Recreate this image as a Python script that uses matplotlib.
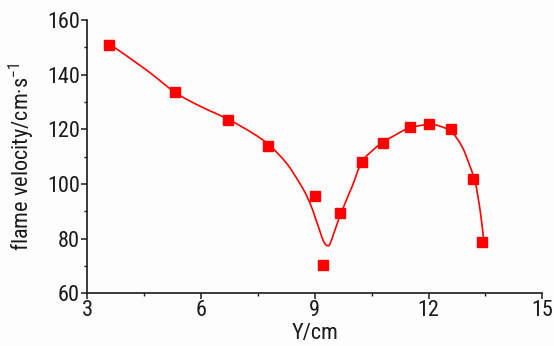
import matplotlib
matplotlib.use("Agg")
import matplotlib.pyplot as plt
from matplotlib.ticker import MultipleLocator
from matplotlib.path import Path
from matplotlib.patches import PathPatch

# measured data points
y_pos = [3.58, 5.32, 6.71, 7.76, 9.00, 9.21, 9.68, 10.24, 10.79, 11.50, 12.00, 12.58, 13.18, 13.42]
velocity = [151.0, 133.6, 123.4, 113.8, 95.5, 70.3, 89.3, 108.0, 115.0, 120.8, 121.9, 120.0, 102.0, 78.7]

# fitted smooth curve (knots)
fit_x = [3.61, 4.57, 5.34, 5.98, 6.72, 7.38, 7.80, 8.26, 8.61, 8.78, 8.92, 9.01, 9.12, 9.20,
         9.27, 9.33, 9.40, 9.53, 9.71, 9.98, 10.24, 10.55, 10.77, 11.17, 11.51, 12.00,
         12.30, 12.61, 12.88, 13.09, 13.23, 13.36, 13.45]
fit_y = [151.1, 141.7, 133.4, 128.5, 123.7, 118.5, 114.3, 107.6, 100.2, 96.0, 91.5, 88.0, 83.5,
         80.2, 78.2, 77.5, 78.0, 83.0, 89.9, 98.9, 108.0, 112.6, 115.0, 118.3, 120.6, 121.8,
         121.2, 119.0, 113.8, 106.6, 100.7, 90.4, 80.0]

x_ticks = [3, 6, 9, 12, 15]
y_ticks = [60, 80, 100, 120, 140, 160]

FONT = ['Roboto Condensed', 'Liberation Sans', 'DejaVu Sans']
plt.rcParams['font.family'] = FONT
plt.rcParams['mathtext.fontset'] = 'custom'
plt.rcParams['mathtext.rm'] = 'Roboto Condensed'
plt.rcParams['mathtext.it'] = 'Roboto Condensed'

fig = plt.figure(figsize=(5.54, 3.46), dpi=100)
fig.patch.set_facecolor('#fdfdfd')
ax = fig.add_axes([0.157, 0.152, 0.822, 0.790])
ax.set_facecolor('#fdfdfd')

# smooth path through the curve knots (Catmull-Rom as cubic Bezier segments)
pts = list(zip(fit_x, fit_y))
verts = [pts[0]]
codes = [Path.MOVETO]
n = len(pts)
for i in range(n - 1):
    p0 = pts[i - 1] if i > 0 else pts[i]
    p1 = pts[i]
    p2 = pts[i + 1]
    p3 = pts[i + 2] if i + 2 < n else pts[i + 1]
    c1 = (p1[0] + (p2[0] - p0[0]) / 6, p1[1] + (p2[1] - p0[1]) / 6)
    c2 = (p2[0] - (p3[0] - p1[0]) / 6, p2[1] - (p3[1] - p1[1]) / 6)
    verts += [c1, c2, p2]
    codes += [Path.CURVE4] * 3
ax.add_patch(PathPatch(Path(verts, codes), facecolor='none', edgecolor='#ff0000', lw=1.2, zorder=2))

ax.plot(y_pos, velocity, linestyle='none', marker='s', ms=7, color='#ff0000', zorder=3)

ax.set_xlim(3, 15)
ax.set_ylim(60, 160)
ax.set_xticks(x_ticks)
ax.set_yticks(y_ticks)
ax.xaxis.set_minor_locator(MultipleLocator(1.5))
ax.yaxis.set_minor_locator(MultipleLocator(10))

for s in ['top', 'right']:
    ax.spines[s].set_visible(False)
for s in ['left', 'bottom']:
    ax.spines[s].set_linewidth(1.2)
    ax.spines[s].set_color('#1a1a1a')

ax.tick_params(axis='both', which='major', direction='out', length=4, width=1.1,
               labelsize=16, pad=1, colors='#1a1a1a')
ax.tick_params(axis='both', which='minor', direction='out', length=2.5, width=1.0, colors='#1a1a1a')

ax.set_xlabel('Y/cm', fontsize=16, labelpad=1, color='#1a1a1a')
ax.set_ylabel('flame velocity/cm·s$^{-1}$', fontsize=16, labelpad=7, color='#1a1a1a')

fig.savefig('out.png', dpi=100, facecolor=fig.get_facecolor())
